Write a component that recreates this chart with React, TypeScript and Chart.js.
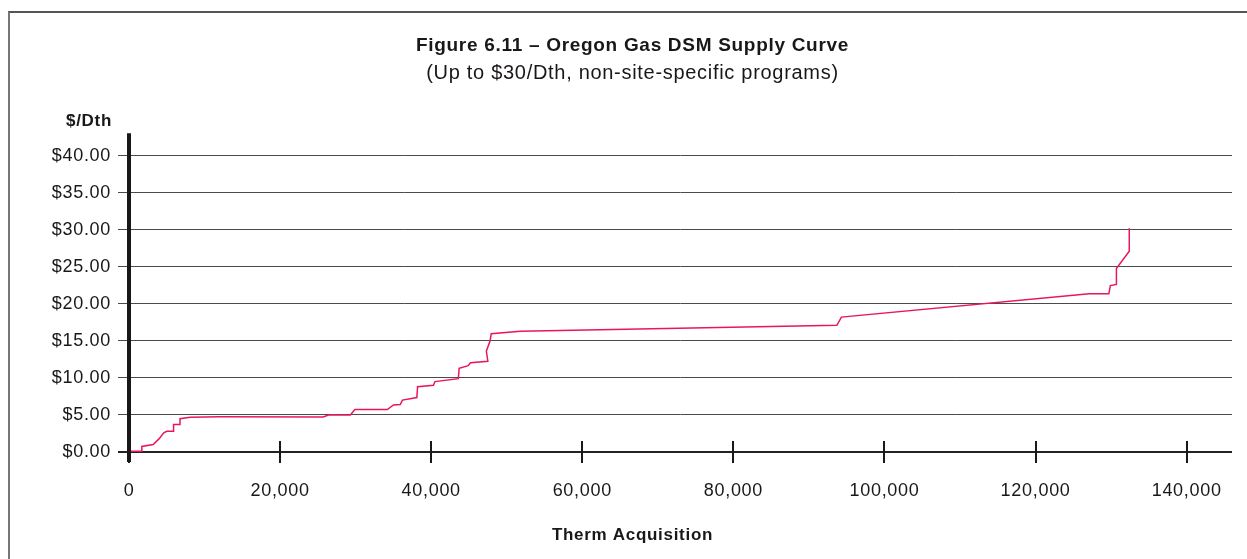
import React, { useEffect, useRef } from 'react';
import { Chart, registerables } from 'chart.js';

Chart.register(...registerables);

// Therm acquisition (cumulative therms) and levelized cost ($/Dth)
const thermX = [
  0, 1700, 1700, 3200, 4000, 4600, 5000, 5900, 5900, 6750, 6750, 8100, 12000,
  25700, 26400, 29300, 29900, 34200, 35000, 35900, 36200, 38100, 38200, 40300,
  40500, 43600, 43700, 44900, 45200, 47500, 47300, 47800, 47950, 51800, 93700,
  94300, 127100, 129700, 129900, 130700, 130700, 132400, 132400,
];
const priceY = [
  0.1, 0.1, 0.75, 1.0, 1.8, 2.6, 2.8, 2.8, 3.7, 3.7, 4.5, 4.7, 4.76,
  4.73, 5.0, 5.0, 5.73, 5.73, 6.35, 6.4, 7.0, 7.35, 8.8, 9.0,
  9.5, 9.9, 11.3, 11.65, 12.05, 12.25, 13.6, 15.0, 15.95, 16.3, 17.1,
  18.2, 21.35, 21.35, 22.45, 22.6, 24.75, 27.1, 30.2,
];

const xTickValues = [0, 20000, 40000, 60000, 80000, 100000, 120000, 140000];
const yTickValues = [0, 5, 10, 15, 20, 25, 30, 35, 40];
const xMax = 146000;
const yMax = 43;

const titleText = 'Figure 6.11 – Oregon Gas DSM Supply Curve';
const subtitleText = '(Up to $30/Dth, non-site-specific programs)';
const yAxisLabel = '$/Dth';
const xAxisLabel = 'Therm Acquisition';

const FONT = '"Liberation Sans", Arial, Helvetica, sans-serif';
const INK = '#1a1718';
const LINE = '#e8175d';

const CW = 1199;
const CH = 546;

export default function App() {
  const ref = useRef<HTMLCanvasElement>(null);

  useEffect(() => {
    const canvas = ref.current;
    if (!canvas) return;

    const decor = {
      id: 'decor',
      beforeDraw(chart: any) {
        try {
          chart.ctx.letterSpacing = '0.7px';
        } catch (e) {}
      },
      afterDraw(chart: any) {
        const { ctx, chartArea, scales } = chart;
        const xs = scales.x;
        const ys = scales.y;
        const y0 = ys.getPixelForValue(0);
        ctx.save();
        ctx.strokeStyle = INK;
        ctx.lineWidth = 2;
        xs.ticks.forEach((t: any) => {
          const px = Math.round(xs.getPixelForValue(t.value));
          ctx.beginPath();
          ctx.moveTo(px, y0 - 11);
          ctx.lineTo(px, y0 + 11);
          ctx.stroke();
        });
        ctx.lineWidth = 4;
        ctx.beginPath();
        ctx.moveTo(chartArea.left, chartArea.top);
        ctx.lineTo(chartArea.left, y0 + 10);
        ctx.stroke();

        ctx.fillStyle = INK;
        ctx.font = `bold 17px ${FONT}`;
        ctx.textBaseline = 'middle';
        ctx.textAlign = 'right';
        ctx.fillText(yAxisLabel, 79, 108);
        ctx.textAlign = 'center';
        ctx.fillText(xAxisLabel, chart.width / 2, 522);
        ctx.restore();
      },
    };

    const chart = new Chart(canvas, {
      type: 'line',
      data: {
        datasets: [
          {
            data: thermX.map((x, i) => ({ x, y: priceY[i] })),
            borderColor: LINE,
            borderWidth: 1.5,
            pointRadius: 0,
            tension: 0,
            fill: false,
          },
        ],
      },
      options: {
        animation: false,
        responsive: false,
        devicePixelRatio: 1,
        layout: { padding: 0 },
        plugins: {
          legend: { display: false },
          tooltip: { enabled: false },
          title: {
            display: true,
            text: titleText,
            color: INK,
            font: { family: FONT, size: 19, weight: 'bold' },
            padding: { top: 21.6, bottom: 0 },
          },
          subtitle: {
            display: true,
            text: subtitleText,
            color: INK,
            font: { family: FONT, size: 20, weight: 'normal' },
            padding: { top: 3.6, bottom: 48.3 },
          },
        },
        scales: {
          x: {
            type: 'linear',
            min: 0,
            max: xMax,
            border: { display: false },
            grid: { display: false },
            afterBuildTicks(scale: any) {
              scale.ticks = xTickValues.map((v) => ({ value: v }));
            },
            ticks: {
              padding: 20,
              maxRotation: 0,
              autoSkip: false,
              color: INK,
              font: { family: FONT, size: 18 },
              callback: (v: any) => Number(v).toLocaleString('en-US'),
            },
            afterFit(scale: any) {
              scale.height = CH - 439;
              scale.paddingLeft = 0;
              scale.paddingRight = 0;
            },
          },
          y: {
            type: 'linear',
            min: 0,
            max: yMax,
            border: { display: false },
            grid: {
              color: (c: any) => (c.tick && c.tick.value === 0 ? '#222' : '#4a4a4a'),
              lineWidth: (c: any) => (c.tick && c.tick.value === 0 ? 2 : 1),
              tickLength: 11,
              drawTicks: true,
            },
            afterBuildTicks(scale: any) {
              scale.ticks = yTickValues.map((v) => ({ value: v }));
            },
            ticks: {
              padding: 7,
              autoSkip: false,
              color: INK,
              font: { family: FONT, size: 18 },
              callback: (v: any) => '$' + Number(v).toFixed(2),
            },
            afterFit(scale: any) {
              scale.width = 96;
              scale.paddingTop = 0;
              scale.paddingBottom = 0;
            },
          },
        },
      },
      plugins: [decor],
    } as any);

    return () => chart.destroy();
  }, []);

  return (
    <div style={{ position: 'fixed', inset: 0, overflow: 'hidden', background: '#fff' }}>
      <div
        style={{
          position: 'absolute',
          left: 8,
          top: 11,
          width: 1300,
          height: 600,
          borderTop: '2px solid #555',
          borderLeft: '2px solid #777',
        }}
      >
        <canvas
          ref={ref}
          width={CW}
          height={CH}
          style={{ position: 'absolute', left: 23, top: 0, width: CW, height: CH }}
        />
      </div>
    </div>
  );
}
